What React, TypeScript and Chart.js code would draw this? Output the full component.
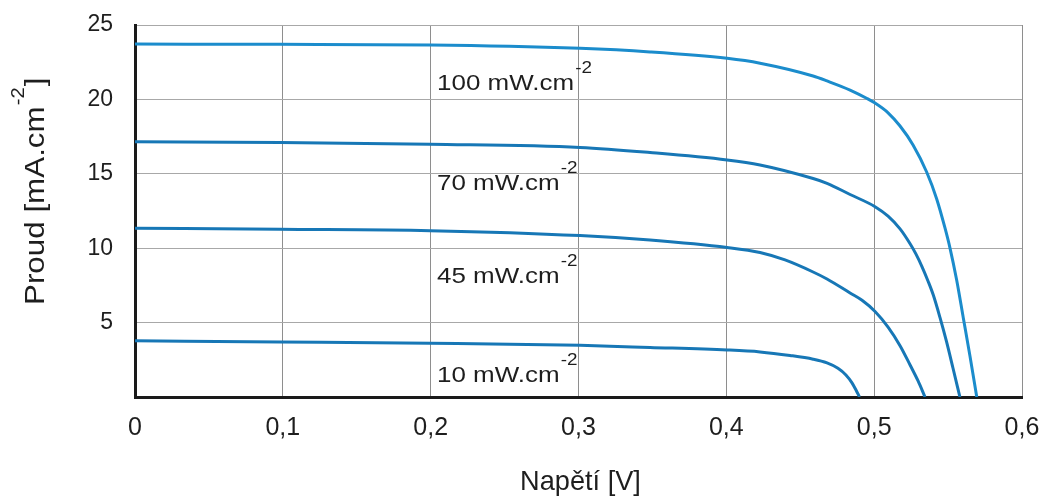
import React, { useEffect, useRef } from 'react';
import { Chart, registerables } from 'chart.js';

Chart.register(...registerables);

// Voltage [V] / current [mA.cm^-2]
const V100 = [0, 0.0981, 0.1996, 0.301, 0.3484, 0.4005, 0.4228, 0.4587, 0.4681, 0.4837, 0.4952, 0.5006, 0.5094, 0.5175, 0.5263, 0.5355, 0.5423, 0.5479, 0.5513, 0.5558, 0.5603, 0.5648, 0.5694];
const I100 = [23.72, 23.7, 23.66, 23.43, 23.19, 22.76, 22.43, 21.57, 21.24, 20.63, 20.06, 19.75, 19.1, 18.21, 16.94, 15.12, 13.31, 11.36, 10.01, 7.86, 5.31, 2.76, 0];

const V70 = [0, 0.0981, 0.1996, 0.301, 0.3484, 0.4005, 0.4228, 0.4587, 0.4681, 0.4837, 0.5006, 0.5094, 0.5175, 0.5243, 0.5283, 0.5324, 0.5364, 0.54, 0.5445, 0.549, 0.5533, 0.558];
const I70 = [17.16, 17.1, 16.98, 16.77, 16.43, 15.93, 15.59, 14.68, 14.36, 13.61, 12.79, 12.15, 11.3, 10.3, 9.6, 8.75, 7.8, 6.85, 5.35, 3.7, 1.95, 0];

const V45 = [0, 0.0981, 0.1996, 0.301, 0.3484, 0.4005, 0.4228, 0.4397, 0.4587, 0.4681, 0.4837, 0.4918, 0.5006, 0.5094, 0.5175, 0.5243, 0.5297, 0.5344];
const I45 = [11.34, 11.27, 11.18, 10.85, 10.55, 10.05, 9.71, 9.21, 8.4, 7.93, 6.99, 6.5, 5.75, 4.7, 3.45, 2.15, 1.08, 0];

const V10 = [0, 0.0981, 0.1996, 0.301, 0.3484, 0.4005, 0.4228, 0.4431, 0.4587, 0.4681, 0.4755, 0.4809, 0.485, 0.4877, 0.4901];
const I10 = [3.78, 3.7, 3.61, 3.47, 3.33, 3.16, 3.03, 2.79, 2.54, 2.29, 1.93, 1.48, 0.95, 0.47, 0];

const seriesLabels = ['100 mW.cm', '70 mW.cm', '45 mW.cm', '10 mW.cm'];
const labelSup = '-2';
const labelAnchorV = [0.2043, 0.2043, 0.2043, 0.2043];
const labelAnchorI = [20.63, 13.91, 7.66, 1.0];

const xTickValues = [0, 0.1, 0.2, 0.3, 0.4, 0.5, 0.6];
const xTickLabels = ['0', '0,1', '0,2', '0,3', '0,4', '0,5', '0,6'];
const yTickValues = [0, 5, 10, 15, 20, 25];
const yTickLabels = ['', '5', '10', '15', '20', '25'];

const xTitle = 'Napětí [V]';
const yTitleMain = 'Proud [mA.cm';
const yTitleSup = '-2';
const yTitleEnd = ']';

const FONT = '"Liberation Sans", Arial, Helvetica, sans-serif';
const TEXT = '#1e1e1e';

const toPts = (xs: number[], ys: number[]) => xs.map((x, i) => ({ x, y: ys[i] }));

const textPlugin = {
  id: 'annotText',
  afterDraw(chart: any) {
    const ctx: CanvasRenderingContext2D = chart.ctx;
    const xs = chart.scales.x;
    const ys = chart.scales.y;
    ctx.save();
    ctx.fillStyle = TEXT;
    ctx.textBaseline = 'alphabetic';
    ctx.textAlign = 'left';

    // curve labels
    const sx = 1.18;
    for (let i = 0; i < seriesLabels.length; i++) {
      const px = xs.getPixelForValue(labelAnchorV[i]);
      const py = ys.getPixelForValue(labelAnchorI[i]);
      ctx.save();
      ctx.translate(px, py);
      ctx.scale(sx, 1);
      ctx.font = `22px ${FONT}`;
      ctx.fillText(seriesLabels[i], 0, 0);
      const w = ctx.measureText(seriesLabels[i]).width;
      ctx.font = `16px ${FONT}`;
      ctx.fillText(labelSup, w + 1, -17);
      ctx.restore();
    }

    // x title
    ctx.font = `28px ${FONT}`;
    ctx.textAlign = 'center';
    const cx = (chart.chartArea.left + chart.chartArea.right) / 2 + 2;
    ctx.save();
    ctx.translate(cx, 490);
    ctx.scale(0.97, 1);
    ctx.fillText(xTitle, 0, 0);
    ctx.restore();

    // y title
    ctx.save();
    ctx.translate(44, 305);
    ctx.rotate(-Math.PI / 2);
    ctx.scale(1.12, 1);
    ctx.textAlign = 'left';
    ctx.font = `28px ${FONT}`;
    ctx.fillText(yTitleMain, 0, 0);
    const w = ctx.measureText(yTitleMain).width;
    ctx.font = `18px ${FONT}`;
    ctx.fillText(yTitleSup, w + 1, -20);
    const ws = ctx.measureText(yTitleSup).width;
    ctx.font = `28px ${FONT}`;
    ctx.fillText(yTitleEnd, w + ws + 2, 0);
    ctx.restore();

    ctx.restore();
  },
};

export default function App() {
  const ref = useRef<HTMLCanvasElement | null>(null);

  useEffect(() => {
    if (!ref.current) return;
    const lineCommon = {
      pointRadius: 0,
      borderWidth: 3,
      fill: false,
      cubicInterpolationMode: 'monotone' as const,
    };
    const chart = new Chart(ref.current, {
      type: 'line',
      data: {
        datasets: [
          { ...lineCommon, label: seriesLabels[0], data: toPts(V100, I100), borderColor: '#1b8ccc' },
          { ...lineCommon, label: seriesLabels[1], data: toPts(V70, I70), borderColor: '#1777b6' },
          { ...lineCommon, label: seriesLabels[2], data: toPts(V45, I45), borderColor: '#1777b6' },
          { ...lineCommon, label: seriesLabels[3], data: toPts(V10, I10), borderColor: '#1777b6' },
        ],
      },
      options: {
        animation: false,
        responsive: false,
        maintainAspectRatio: false,
        layout: { padding: { left: 0, right: 24, top: 25, bottom: 0 } },
        plugins: { legend: { display: false }, tooltip: { enabled: false } },
        scales: {
          x: {
            type: 'linear',
            min: 0,
            max: 0.6,
            afterBuildTicks: (s: any) => {
              s.ticks = xTickValues.map((v) => ({ value: v }));
            },
            afterFit: (s: any) => {
              s.height = 101;
              s.paddingLeft = 0;
              s.paddingRight = 0;
            },
            ticks: {
              padding: 16,
              color: TEXT,
              font: { family: FONT, size: 25 },
              maxRotation: 0,
              autoSkip: false,
              callback: (_v: any, i: number) => xTickLabels[i],
            },
            grid: { color: '#8e8e8e', lineWidth: 1, drawTicks: false },
            border: { display: true, color: '#1a1a1a', width: 3 },
          },
          y: {
            type: 'linear',
            min: 0,
            max: 25,
            afterBuildTicks: (s: any) => {
              s.ticks = yTickValues.map((v) => ({ value: v }));
            },
            afterFit: (s: any) => {
              s.width = 135;
              s.paddingTop = 0;
              s.paddingBottom = 0;
            },
            ticks: {
              padding: 22,
              color: TEXT,
              font: { family: FONT, size: 23 },
              autoSkip: false,
              callback: (_v: any, i: number) => yTickLabels[i],
            },
            grid: { color: '#a8a8a8', lineWidth: 1, drawTicks: false },
            border: { display: true, color: '#1a1a1a', width: 3 },
          },
        },
      },
      plugins: [textPlugin],
    });
    return () => chart.destroy();
  }, []);

  return (
    <div style={{ position: 'fixed', left: 0, top: 0, width: 1046, height: 498, background: '#fff' }}>
      <canvas ref={ref} width={1046} height={498} style={{ display: 'block' }} />
    </div>
  );
}
